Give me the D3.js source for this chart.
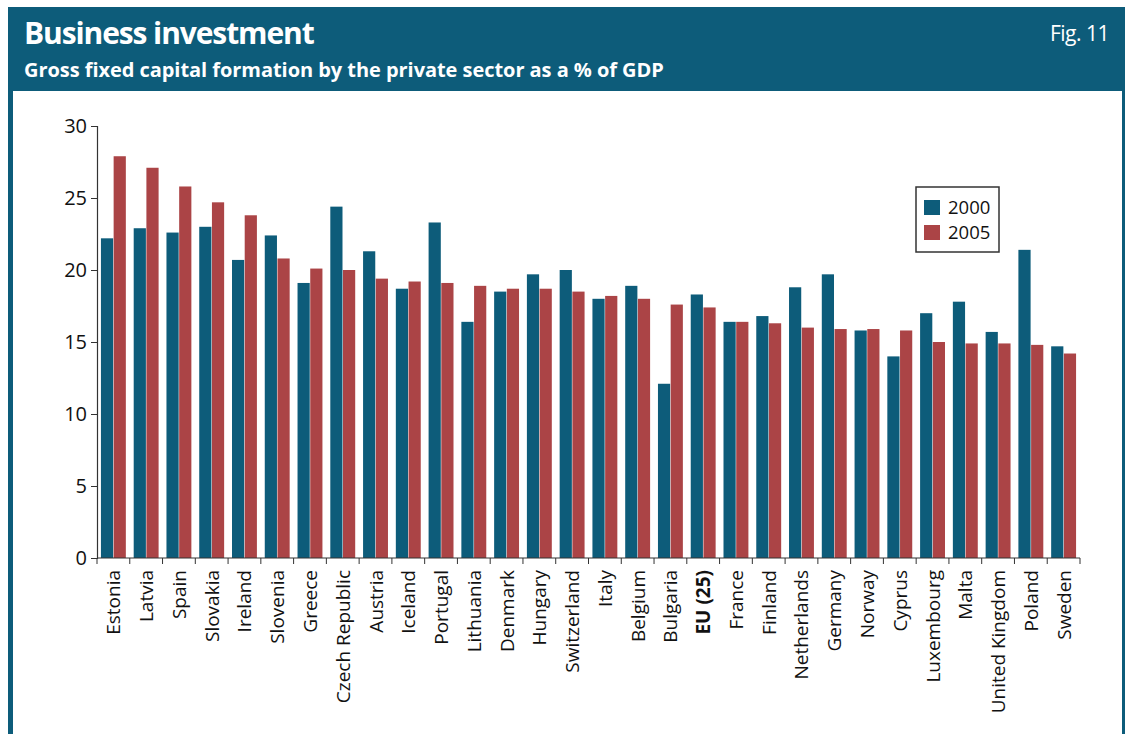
<!DOCTYPE html>
<html>
<head>
<meta charset="utf-8">
<script src="https://cdn.jsdelivr.net/npm/d3@7"></script>
<style>
  body { margin: 0; background: #fff; }
  svg { display: block; font-family: "Open Sans", "Noto Sans", sans-serif; }
</style>
</head>
<body>
<svg width="1125" height="734"></svg>
<script>
const countries = ["Estonia", "Latvia", "Spain", "Slovakia", "Ireland", "Slovenia", "Greece",
  "Czech Republic", "Austria", "Iceland", "Portugal", "Lithuania", "Denmark", "Hungary",
  "Switzerland", "Italy", "Belgium", "Bulgaria", "EU (25)", "France", "Finland", "Netherlands",
  "Germany", "Norway", "Cyprus", "Luxembourg", "Malta", "United Kingdom", "Poland", "Sweden"];
const values2000 = [22.2, 22.9, 22.6, 23.0, 20.7, 22.4, 19.1, 24.4, 21.3, 18.7, 23.3, 16.4, 18.5, 19.7,
  20.0, 18.0, 18.9, 12.1, 18.3, 16.4, 16.8, 18.8, 19.7, 15.8, 14.0, 17.0, 17.8, 15.7, 21.4, 14.7];
const values2005 = [27.9, 27.1, 25.8, 24.7, 23.8, 20.8, 20.1, 20.0, 19.4, 19.2, 19.1, 18.9, 18.7, 18.7,
  18.5, 18.2, 18.0, 17.6, 17.4, 16.4, 16.3, 16.0, 15.9, 15.9, 15.8, 15.0, 14.9, 14.9, 14.8, 14.2];
const series = ["2000", "2005"];
const yTicks = [0, 5, 10, 15, 20, 25, 30];

const blue = "#0d5c7a", red = "#ab4446";
const svg = d3.select("svg");

// 外框和标题栏
svg.append("rect").attr("x", 8).attr("y", 7).attr("width", 1117).attr("height", 727).attr("fill", blue);
svg.append("rect").attr("x", 13).attr("y", 91).attr("width", 1109).attr("height", 643).attr("fill", "#fff");
svg.append("text").attr("x", 24).attr("y", 44).attr("fill", "#fff")
  .attr("font-size", 30).attr("font-weight", "bold").attr("letter-spacing", -1.1)
  .text("Business investment");
svg.append("text").attr("x", 24).attr("y", 77).attr("fill", "#fff")
  .attr("font-size", 20).attr("font-weight", "bold").attr("letter-spacing", -0.05)
  .text("Gross fixed capital formation by the private sector as a % of GDP");
svg.append("text").attr("x", 1109).attr("y", 41).attr("fill", "#fff")
  .attr("font-size", 21).attr("text-anchor", "end").attr("letter-spacing", -0.5)
  .text("Fig. 11");

const x0 = 97, x1 = 1080, yTop = 126, yBase = 558;
const x = d3.scaleBand().domain(countries).range([x0, x1]).paddingInner(0.24).paddingOuter(0.12);
const xs = d3.scaleBand().domain(series).range([0, x.bandwidth()]).paddingInner(0.04);
const y = d3.scaleLinear().domain([0, 30]).range([yBase, yTop]);
const color = d3.scaleOrdinal().domain(series).range([blue, red]);

const rows = countries.map((c, i) => ({ name: c, vals: [values2000[i], values2005[i]] }));

const g = svg.append("g");
g.selectAll("g.grp")
  .data(rows)
  .enter()
  .append("g")
  .attr("transform", d => `translate(${x(d.name)},0)`)
  .selectAll("rect")
  .data(d => d.vals.map((v, k) => ({ key: series[k], v })))
  .enter()
  .append("rect")
  .attr("x", d => xs(d.key))
  .attr("y", d => y(d.v))
  .attr("width", xs.bandwidth())
  .attr("height", d => yBase - y(d.v))
  .attr("fill", d => color(d.key));

// y轴
const gy = svg.append("g").attr("transform", `translate(${x0},0)`)
  .call(d3.axisLeft(y).tickValues(yTicks).tickSize(6).tickPadding(4));
gy.attr("font-size", null).attr("font-family", null);
gy.select(".domain").attr("stroke", "#333").attr("stroke-width", 1.2);
gy.selectAll("line").attr("stroke", "#333");
gy.selectAll("text").style("font-size", "20px").attr("fill", "#111");

// x轴：刻度在分组之间
const gx = svg.append("g").attr("transform", `translate(0,${yBase})`);
gx.append("line").attr("x1", x0).attr("x2", x1).attr("stroke", "#333").attr("stroke-width", 1.2);
const bounds = countries.map(c => x(c) - x.step() * x.paddingInner() / 2);
bounds[0] = x0;
bounds.push(x1);
gx.selectAll("line.tk").data(bounds).enter().append("line")
  .attr("class", "tk")
  .attr("x1", d => d).attr("x2", d => d)
  .attr("y1", 0).attr("y2", 6)
  .attr("stroke", "#333");
gx.selectAll("text").data(countries).enter().append("text")
  .attr("transform", d => `translate(${x(d) + x.bandwidth() / 2 + 7},12) rotate(-90)`)
  .attr("text-anchor", "end")
  .style("font-size", "19px")
  .attr("font-weight", d => d === "EU (25)" ? "bold" : "normal")
  .attr("fill", "#111")
  .text(d => d);

// 图例
const lg = svg.append("g").attr("transform", "translate(916,187)");
lg.append("rect").attr("width", 83).attr("height", 65)
  .attr("fill", "#fff").attr("stroke", "#333").attr("stroke-width", 1.5);
series.forEach((s, i) => {
  lg.append("rect").attr("x", 8).attr("y", 13 + i * 25).attr("width", 16).attr("height", 15)
    .attr("fill", color(s));
  lg.append("text").attr("x", 32).attr("y", 27 + i * 25)
    .style("font-size", "18.5px").attr("fill", "#111").text(s);
});
</script>
</body>
</html>
